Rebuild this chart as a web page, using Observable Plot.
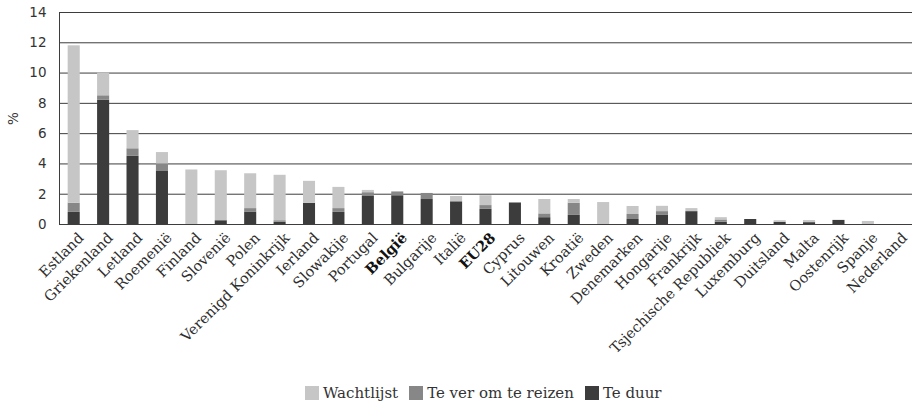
<!DOCTYPE html>
<html><head><meta charset="utf-8">
<script src="https://cdn.jsdelivr.net/npm/d3@7"></script>
<script src="https://cdn.jsdelivr.net/npm/@observablehq/plot@0.6"></script>
<style>
body{margin:0;background:#fff;overflow:hidden}
#legend{display:flex;align-items:center;height:29px;padding-left:305px;font-family:"DejaVu Serif",serif;font-size:15px;color:#333}
.item{display:flex;align-items:center;margin-right:11px}
.sw{width:14px;height:14px;margin-right:4px}
</style></head><body>
<div id="chart"></div><div id="legend"></div>
<script>
const countries = ["Estland","Griekenland","Letland","Roemenië","Finland","Slovenië","Polen","Verenigd Koninkrijk","Ierland","Slowakije","Portugal","België","Bulgarije","Italië","EU28","Cyprus","Litouwen","Kroatië","Zweden","Denemarken","Hongarije","Frankrijk","Tsjechische Republiek","Luxemburg","Duitsland","Malta","Oostenrijk","Spanje","Nederland"];
const teDuur     = [0.8, 8.2, 4.5, 3.5, 0.0, 0.25, 0.8, 0.15, 1.4, 0.8, 1.85, 1.9, 1.65, 1.5, 1.0, 1.4, 0.45, 0.6, 0.0, 0.33, 0.6, 0.85, 0.15, 0.33, 0.15, 0.12, 0.27, 0.0, 0.0];
const teVer      = [0.6, 0.3, 0.5, 0.5, 0.0, 0.0, 0.25, 0.1, 0.0, 0.25, 0.25, 0.25, 0.4, 0.0, 0.25, 0.05, 0.25, 0.8, 0.0, 0.33, 0.25, 0.0, 0.15, 0.0, 0.0, 0.04, 0.0, 0.0, 0.0];
const wachtlijst = [10.4, 1.5, 1.2, 0.75, 3.6, 3.3, 2.3, 3.0, 1.45, 1.4, 0.15, 0.0, 0.0, 0.35, 0.65, 0.0, 0.95, 0.25, 1.45, 0.53, 0.35, 0.2, 0.15, 0.0, 0.1, 0.1, 0.0, 0.2, 0.0];
const stackOrder = ["Te duur","Te ver om te reizen","Wachtlijst"];
const legendOrder = ["Wachtlijst","Te ver om te reizen","Te duur"];
const seriesColors = ["#3c3c3c","#878787","#c6c6c6"];
const yTicks = [0,2,4,6,8,10,12,14];
const boldLabels = ["België","EU28"];

const seriesValues = [teDuur, teVer, wachtlijst];
const data = [];
countries.forEach((c, i) => {
  stackOrder.forEach((s, k) => data.push({country: c, series: s, value: seriesValues[k][i]}));
});

const labelOpts = {
  x: d => d, frameAnchor: "bottom", rotate: -45, textAnchor: "end", lineAnchor: "top",
  dx: 3, dy: 7, fontSize: 14.5, fontFamily: "DejaVu Serif", fill: "#2e2e2e"
};

const chart = Plot.plot({
  width: 913, height: 378,
  marginLeft: 59, marginRight: 1, marginTop: 12, marginBottom: 154,
  style: {fontFamily: "DejaVu Sans", fontSize: "13px", color: "#333", background: "#fff"},
  x: {type: "band", domain: countries, paddingInner: 0.59, paddingOuter: 0.295, round: false, axis: null},
  y: {domain: [0, 14]},
  color: {domain: stackOrder, range: seriesColors},
  marks: [
    Plot.ruleY(yTicks, {stroke: "#3d3d3d", strokeWidth: 1}),
    Plot.barY(data, {x: "country", y: "value", fill: "series", order: stackOrder}),
    Plot.frame({anchor: "left", stroke: "#3d3d3d"}),
    Plot.axisY({ticks: yTicks, tickSize: 0, tickPadding: 13, fontSize: 13.5, fontFamily: "DejaVu Sans",
      label: "%", labelAnchor: "center", labelArrow: "none", labelOffset: 51}),
    Plot.text(countries.filter(c => !boldLabels.includes(c)), labelOpts),
    Plot.text(countries.filter(c => boldLabels.includes(c)), {...labelOpts, fontWeight: "bold", fill: "#111"})
  ]
});
document.getElementById("chart").appendChild(chart);

const legend = document.getElementById("legend");
legendOrder.forEach(s => {
  const item = document.createElement("div");
  item.className = "item";
  const sw = document.createElement("span");
  sw.className = "sw";
  sw.style.background = seriesColors[stackOrder.indexOf(s)];
  const t = document.createElement("span");
  t.textContent = s;
  item.appendChild(sw); item.appendChild(t);
  legend.appendChild(item);
});
</script>
</body></html>
